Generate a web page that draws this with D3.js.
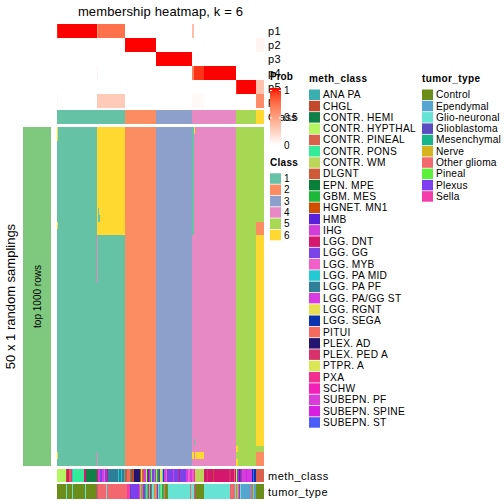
<!DOCTYPE html>
<html><head><meta charset="utf-8">
<script src="https://cdn.jsdelivr.net/npm/d3@7"></script>
<style>body{margin:0;background:#fff}text{font-family:"Liberation Sans",Arial,Helvetica,sans-serif}</style>
</head><body>
<script>
// ---------------- data ----------------
const classLabels = ["1","2","3","4","5","6"];
const classColors = ["#66C2A5","#FC8D62","#8DA0CB","#E78AC3","#A6D854","#FFD92F"];
const probNames = ["p1","p2","p3","p4","p5","p6"];

// column groups (samples ordered as in the figure)
const groupSize  = [1, 39, 1, 27, 31, 36, 2, 10, 32, 1, 19, 8];
const groupClass = [1, 1, 1, 1, 2, 3, 4, 4, 4, 5, 5, 6];
const p1 = [0.95, 1, 0.55, 0.72, 0, 0, 0.35, 0, 0, 0, 0, 0];
const p2 = [0, 0, 0, 0, 1, 0, 0, 0, 0, 0, 0, 0.06];
const p3 = [0, 0, 0, 0, 0, 1, 0, 0, 0, 0, 0, 0];
const p4 = [0, 0, 0.06, 0, 0, 0, 0.65, 0.93, 1, 0, 0, 0];
const p5 = [0, 0, 0, 0, 0, 0, 0, 0, 0, 0.93, 1, 0.32];
const p6 = [0.05, 0, 0.3, 0.28, 0, 0, 0.04, 0.03, 0, 0.02, 0, 0.6];

// sampling rows that disagree with the consensus class: [colFrom, colTo, rowFrom, rowTo, class]
const samplingOverrides = [
  [0,1, 0,2, 6], [0,1, 14,15, 6], [0,1, 48,49, 6],
  [40,68, 0,16, 6], [41,42, 12,14, 1], [42,43, 13,14, 1],
  [40,41, 16,23, 4], [40,41, 48,50, 4],
  [135,137, 0,16, 1], [137,138, 0,1, 6], [137,138, 46,47, 1],
  [135,137, 48,49, 6], [138,147, 48,49, 6],
  [179,181, 47,48, 6], [179,181, 49,50, 6],
  [199,207, 0,14, 5], [199,207, 14,16, 2], [199,207, 47,48, 5], [199,207, 48,50, 2]
];
const nSamplings = 50;

const methLevels = ["ANA PA","CHGL","CONTR. HEMI","CONTR. HYPTHAL","CONTR. PINEAL","CONTR. PONS","CONTR. WM","DLGNT","EPN. MPE","GBM. MES","HGNET. MN1","HMB","IHG","LGG. DNT","LGG. GG","LGG. MYB","LGG. PA MID","LGG. PA PF","LGG. PA/GG ST","LGG. RGNT","LGG. SEGA","PITUI","PLEX. AD","PLEX. PED A","PTPR. A","PXA","SCHW","SUBEPN. PF","SUBEPN. SPINE","SUBEPN. ST"];
const methColors = ["#3AAFB0","#C2492B","#0E8048","#B5F562","#D9604A","#34EB9A","#BCD65A","#D05A38","#08803A","#1DB83A","#CF4E00","#5A1FD8","#D23CD8","#D4186E","#7B44E8","#F35FC8","#25C9D4","#2E7F98","#D93BE3","#E8E050","#0A33B0","#F56A5E","#221670","#D8326A","#DCE655","#F2308F","#F21FB8","#D93CD8","#D61FE0","#4B5CF8"];
const tumorLevels = ["Control","Ependymal","Glio-neuronal","Glioblastoma","Mesenchymal","Nerve","Other glioma","Pineal","Plexus","Sella"];
const tumorColors = ["#6B8E1A","#55A5D0","#66E3D3","#5B4CC0","#18B48A","#D4B31E","#F2686E","#5CF03A","#7E3FF0","#F23DAA"];

const methRuns = [
 ["CONTR. HYPTHAL",9],["CHGL",1],["LGG. DNT",2],["CONTR. PINEAL",2],["PXA",1],["LGG. PA MID",1],["CONTR. PONS",11],["LGG. DNT",2],["CONTR. HEMI",11],["LGG. DNT",1],["SUBEPN. PF",2],["LGG. GG",2],["LGG. PA/GG ST",2],["LGG. MYB",1],["LGG. GG",2],["LGG. DNT",1],["LGG. PA PF",10],["LGG. PA MID",1],["LGG. PA PF",2],["LGG. PA MID",1],["LGG. PA PF",2],["ANA PA",1],
 ["DLGNT",2],["PITUI",3],["GBM. MES",1],["PLEX. PED A",1],["CHGL",2],["PLEX. AD",6],["HGNET. MN1",1],["LGG. RGNT",1],["CONTR. PINEAL",1],["DLGNT",1],["LGG. PA/GG ST",2],["PTPR. A",1],["EPN. MPE",1],["HMB",1],["SUBEPN. SPINE",1],["GBM. MES",1],["CONTR. WM",1],["LGG. GG",2],["ANA PA",1],["SCHW",1],
 ["CONTR. WM",1],["GBM. MES",1],["LGG. GG",1],["EPN. MPE",1],["PTPR. A",1],["LGG. RGNT",1],["CONTR. PONS",1],["HMB",1],["IHG",1],["LGG. PA/GG ST",1],["LGG. MYB",1],["LGG. GG",6],["LGG. PA/GG ST",1],["LGG. GG",5],["LGG. DNT",1],["LGG. GG",6],["LGG. PA/GG ST",2],["LGG. MYB",2],["SUBEPN. PF",2],
 ["LGG. MYB",2],["PXA",1],["CONTR. WM",9],["LGG. DNT",3],["PLEX. PED A",1],["LGG. DNT",5],["CHGL",1],["LGG. DNT",15],["PLEX. PED A",2],["LGG. DNT",3],["PITUI",1],["LGG. DNT",1],
 ["PTPR. A",1],["LGG. PA PF",1],["SUBEPN. SPINE",1],["HMB",1],["LGG. DNT",1],["SUBEPN. ST",1],["SUBEPN. PF",2],["LGG. PA/GG ST",2],["SUBEPN. SPINE",1],["LGG. PA/GG ST",2],["IHG",1],["SUBEPN. PF",2],["LGG. SEGA",1],["SUBEPN. ST",1],["LGG. SEGA",2],
 ["CONTR. PINEAL",8]
];
const tumorRuns = [
 ["Control",9],["Glio-neuronal",1],["Control",5],["Glio-neuronal",1],["Control",12],["Glio-neuronal",1],["Control",11],["Sella",1],["Other glioma",8],["Glio-neuronal",1],["Other glioma",18],
 ["Other glioma",2],["Sella",3],["Glioblastoma",1],["Plexus",8],["Sella",1],["Pineal",1],["Other glioma",2],["Plexus",2],["Mesenchymal",1],["Pineal",1],["Ependymal",1],["Plexus",1],["Nerve",1],["Glioblastoma",1],["Control",1],["Glio-neuronal",2],["Other glioma",1],["Nerve",1],
 ["Other glioma",1],["Glioblastoma",1],["Glio-neuronal",1],["Ependymal",1],["Pineal",1],["Glio-neuronal",1],["Control",1],["Mesenchymal",1],["Other glioma",1],["Control",3],["Glio-neuronal",22],["Other glioma",1],["Glio-neuronal",1],
 ["Glio-neuronal",2],["Sella",1],["Control",9],["Glio-neuronal",26],["Other glioma",5],["Glio-neuronal",1],
 ["Other glioma",1],["Pineal",1],["Other glioma",1],["Plexus",1],["Glio-neuronal",1],["Ependymal",9],["Other glioma",1],["Ependymal",2],["Nerve",1],["Ependymal",2],
 ["Control",8]
];

// ---------------- derive per-column values ----------------
const colClass = [], colProb = [];
groupSize.forEach((n,g)=>{ for(let i=0;i<n;i++){ colClass.push(groupClass[g]); colProb.push([p1[g],p2[g],p3[g],p4[g],p5[g],p6[g]]); } });
const N = colClass.length;
const expand = runs => runs.flatMap(([k,n]) => Array(n).fill(k));
const colMeth = expand(methRuns), colTumor = expand(tumorRuns);
const matrix = d3.range(nSamplings).map(r => colClass.slice());
samplingOverrides.forEach(([c0,c1,r0,r1,k])=>{ for(let r=r0;r<r1;r++) for(let c=c0;c<c1;c++) matrix[r][c]=k; });

// ---------------- scales ----------------
const x = d3.scaleBand().domain(d3.range(N)).range([57,264]);
const yRow = d3.scaleBand().domain(d3.range(nSamplings)).range([127,466]);
const yProb = d3.scaleBand().domain(probNames).range([24,108]);
const probColor = d3.scaleLinear().domain([0,1]).range(["#FFFFFF","#FF0000"]).interpolate(d3.interpolateLab);
const classColor = d3.scaleOrdinal().domain(d3.range(1,7)).range(classColors);
const methColor = d3.scaleOrdinal().domain(methLevels).range(methColors);
const tumorColor = d3.scaleOrdinal().domain(tumorLevels).range(tumorColors);

const svg = d3.select("body").append("svg").attr("width",504).attr("height",504);

// title
svg.append("text").attr("x",160.5).attr("y",16).attr("text-anchor","middle").attr("font-size",13).attr("letter-spacing",0.15).text("membership heatmap, k = 6");

// probability rows
const gp = svg.append("g").attr("shape-rendering","crispEdges");
probNames.forEach((pn,pi)=>{
  gp.selectAll(null).data(d3.range(N)).join("rect")
    .attr("x",c=>x(c)).attr("width",x.bandwidth()+0.3)
    .attr("y",yProb(pn)).attr("height",yProb.bandwidth())
    .attr("fill",c=>probColor(colProb[c][pi]));
});
// class row
gp.selectAll(null).data(d3.range(N)).join("rect")
  .attr("x",c=>x(c)).attr("width",x.bandwidth()+0.3)
  .attr("y",110).attr("height",14).attr("fill",c=>classColor(colClass[c]));

// annotation names on the right
const annLab = svg.append("g").attr("font-size",11).attr("letter-spacing",0.3);
probNames.forEach(pn=>annLab.append("text").attr("x",268).attr("y",yProb(pn)+yProb.bandwidth()/2+4).text(pn));
annLab.append("text").attr("x",268).attr("y",121).text("Class");

// left row-split bar
svg.append("rect").attr("x",23).attr("y",127).attr("width",28).attr("height",339).attr("fill","#7FC97F");
svg.append("text").attr("transform","translate(41,296.5) rotate(-90)").attr("text-anchor","middle").attr("font-size",10).text("top 1000 rows");
svg.append("text").attr("transform","translate(15,296.5) rotate(-90)").attr("text-anchor","middle").attr("font-size",13).text("50 x 1 random samplings");

// main heatmap
const gh = svg.append("g").attr("shape-rendering","crispEdges");
matrix.forEach((row,r)=>{
  gh.selectAll(null).data(row.map((k,c)=>({k,c}))).join("rect")
    .attr("x",d=>x(d.c)).attr("width",x.bandwidth()+0.3)
    .attr("y",yRow(r)).attr("height",yRow.bandwidth()+0.3)
    .attr("fill",d=>classColor(d.k));
});

// bottom annotations
const gb = svg.append("g").attr("shape-rendering","crispEdges");
gb.selectAll(null).data(d3.range(N)).join("rect")
  .attr("x",c=>x(c)).attr("width",x.bandwidth()+0.3).attr("y",469).attr("height",13)
  .attr("fill",c=>methColor(colMeth[c]));
gb.selectAll(null).data(d3.range(N)).join("rect")
  .attr("x",c=>x(c)).attr("width",x.bandwidth()+0.3).attr("y",484).attr("height",15)
  .attr("fill",c=>tumorColor(colTumor[c]));
svg.append("text").attr("x",268).attr("y",480).attr("font-size",11).attr("letter-spacing",0.5).text("meth_class");
svg.append("text").attr("x",268).attr("y",496).attr("font-size",11).attr("letter-spacing",0.5).text("tumor_type");

// Prob legend
const defs = svg.append("defs");
const grad = defs.append("linearGradient").attr("id","pg").attr("x1",0).attr("y1",1).attr("x2",0).attr("y2",0);
d3.range(0,1.0001,0.1).forEach(t=>grad.append("stop").attr("offset",t).attr("stop-color",probColor(t)));
svg.append("text").attr("x",270).attr("y",80).attr("font-size",10).attr("font-weight","bold").text("Prob");
svg.append("rect").attr("x",270).attr("y",88).attr("width",11).attr("height",57).attr("fill","url(#pg)");
const probLeg = d3.scaleLinear().domain([0,1]).range([145,90.5]);
[0,0.5,1].forEach(v=>{
  svg.append("line").attr("x1",270).attr("x2",272).attr("y1",probLeg(v)).attr("y2",probLeg(v)).attr("stroke","#fff");
  svg.append("line").attr("x1",279).attr("x2",281).attr("y1",probLeg(v)).attr("y2",probLeg(v)).attr("stroke","#fff");
  svg.append("text").attr("x",284).attr("y",probLeg(v)+3.5).attr("font-size",10).text(v===0.5?"0.5":String(v));
});

// Class legend
svg.append("text").attr("x",270).attr("y",166).attr("font-size",10).attr("font-weight","bold").attr("letter-spacing",0.3).text("Class");
classLabels.forEach((l,i)=>{
  svg.append("rect").attr("x",270).attr("y",173.3+11.3*i).attr("width",11).attr("height",10.5).attr("fill",classColors[i]);
  svg.append("text").attr("x",284).attr("y",173.3+11.3*i+8.8).attr("font-size",10).text(l);
});

// meth_class legend
svg.append("text").attr("x",309).attr("y",82).attr("font-size",10).attr("font-weight","bold").attr("letter-spacing",0.4).text("meth_class");
methLevels.forEach((l,i)=>{
  svg.append("rect").attr("x",309).attr("y",89.5+11.3*i).attr("width",11).attr("height",10.5).attr("fill",methColor(l));
  svg.append("text").attr("x",323).attr("y",89.5+11.3*i+8.7).attr("font-size",10.2).attr("letter-spacing",0.3).text(l);
});
// tumor_type legend
svg.append("text").attr("x",422).attr("y",82).attr("font-size",10).attr("font-weight","bold").attr("letter-spacing",0.4).text("tumor_type");
tumorLevels.forEach((l,i)=>{
  svg.append("rect").attr("x",422).attr("y",89.5+11.3*i).attr("width",11).attr("height",10.5).attr("fill",tumorColor(l));
  svg.append("text").attr("x",436).attr("y",89.5+11.3*i+8.7).attr("font-size",10.2).attr("letter-spacing",0.2).text(l);
});
</script>
</body></html>
